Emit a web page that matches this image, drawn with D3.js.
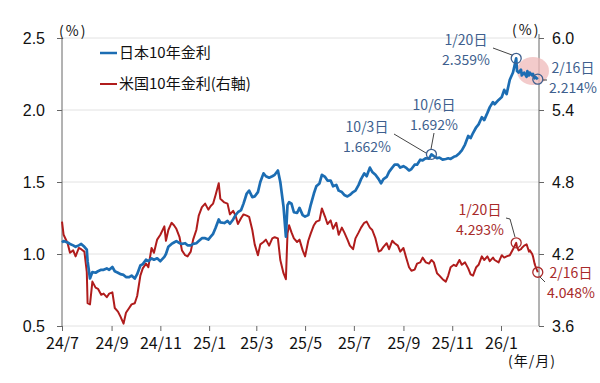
<!DOCTYPE html>
<html>
<head>
<meta charset="utf-8">
<script src="https://cdn.jsdelivr.net/npm/d3@7"></script>
<style>
  body { margin: 0; background: #fff; }
  text { font-family: "Noto Sans CJK JP", "Noto Sans", sans-serif; }
</style>
</head>
<body>
<div id="chart"></div>
<script>
// observation dates, grouped by month
var dates = [
  "2024-07-01","2024-07-03","2024-07-08","2024-07-11","2024-07-15","2024-07-18","2024-07-22","2024-07-25","2024-07-29",
  "2024-08-01","2024-08-02","2024-08-05","2024-08-08","2024-08-12","2024-08-15","2024-08-19","2024-08-22","2024-08-26","2024-08-29",
  "2024-09-02","2024-09-05","2024-09-09","2024-09-12","2024-09-16","2024-09-19","2024-09-23","2024-09-26","2024-09-30",
  "2024-10-03","2024-10-07","2024-10-10","2024-10-14","2024-10-17","2024-10-21","2024-10-24","2024-10-28",
  "2024-11-01","2024-11-06","2024-11-08","2024-11-11","2024-11-15","2024-11-18","2024-11-21","2024-11-25","2024-11-28",
  "2024-12-02","2024-12-05","2024-12-09","2024-12-12","2024-12-16","2024-12-19","2024-12-23","2024-12-27","2024-12-31",
  "2025-01-03","2025-01-06","2025-01-09","2025-01-13","2025-01-15","2025-01-20","2025-01-24","2025-01-27","2025-01-31",
  "2025-02-03","2025-02-06","2025-02-10","2025-02-13","2025-02-17","2025-02-20","2025-02-24","2025-02-27",
  "2025-03-03","2025-03-06","2025-03-10","2025-03-13","2025-03-17","2025-03-21","2025-03-24","2025-03-28","2025-03-31",
  "2025-04-04","2025-04-07","2025-04-09","2025-04-11","2025-04-14","2025-04-17","2025-04-21","2025-04-24","2025-04-28",
  "2025-05-01","2025-05-05","2025-05-08","2025-05-12","2025-05-15","2025-05-19","2025-05-22","2025-05-26","2025-05-29",
  "2025-06-02","2025-06-05","2025-06-09","2025-06-12","2025-06-16","2025-06-19","2025-06-23","2025-06-26","2025-06-30",
  "2025-07-03","2025-07-07","2025-07-10","2025-07-14","2025-07-17","2025-07-21","2025-07-24","2025-07-28",
  "2025-08-01","2025-08-04","2025-08-07","2025-08-11","2025-08-14","2025-08-18","2025-08-21","2025-08-25","2025-08-28",
  "2025-09-01","2025-09-04","2025-09-08","2025-09-11","2025-09-15","2025-09-18","2025-09-22","2025-09-25","2025-09-29",
  "2025-10-03","2025-10-06","2025-10-09","2025-10-13","2025-10-16","2025-10-20","2025-10-24","2025-10-27","2025-10-30",
  "2025-11-03","2025-11-06","2025-11-10","2025-11-13","2025-11-17","2025-11-21","2025-11-24","2025-11-27",
  "2025-12-01","2025-12-04","2025-12-08","2025-12-11","2025-12-15","2025-12-18","2025-12-22","2025-12-24","2025-12-29",
  "2026-01-02","2026-01-05","2026-01-08","2026-01-12","2026-01-16","2026-01-20","2026-01-21","2026-01-23","2026-01-26","2026-01-27","2026-01-30",
  "2026-02-02","2026-02-03","2026-02-05","2026-02-06","2026-02-09","2026-02-10","2026-02-12","2026-02-13","2026-02-16"
];
// 日本10年金利 (left axis, %)
var jpYield = [
  1.08,1.09,1.08,1.07,1.06,1.05,1.06,1.07,1.05,
  1.03,0.95,0.83,0.875,0.87,0.88,0.89,0.89,0.90,0.89,
  0.91,0.88,0.87,0.86,0.855,0.84,0.84,0.85,0.83,
  0.86,0.92,0.93,0.96,0.95,0.97,0.96,0.97,
  0.95,0.98,1.00,1.05,1.07,1.08,1.09,1.075,1.07,
  1.075,1.06,1.06,1.07,1.075,1.09,1.11,1.11,1.10,
  1.12,1.14,1.18,1.24,1.22,1.215,1.23,1.21,1.24,
  1.27,1.29,1.305,1.35,1.42,1.44,1.395,1.40,
  1.43,1.50,1.56,1.54,1.53,1.54,1.55,1.58,1.50,
  1.33,1.12,1.34,1.36,1.35,1.29,1.285,1.32,1.27,
  1.26,1.27,1.34,1.42,1.47,1.49,1.55,1.535,1.51,
  1.51,1.47,1.48,1.44,1.43,1.41,1.40,1.41,1.43,
  1.44,1.48,1.52,1.56,1.54,1.60,1.57,1.55,
  1.52,1.49,1.52,1.535,1.57,1.60,1.62,1.62,1.60,
  1.61,1.60,1.58,1.59,1.62,1.62,1.655,1.65,1.665,
  1.662,1.692,1.68,1.665,1.67,1.655,1.66,1.665,1.66,
  1.675,1.68,1.70,1.72,1.76,1.82,1.805,1.84,
  1.88,1.90,1.95,1.93,1.98,2.02,2.055,2.04,2.07,
  2.09,2.14,2.11,2.21,2.26,2.359,2.27,2.26,2.28,2.24,2.26,
  2.23,2.27,2.24,2.26,2.24,2.25,2.22,2.23,2.214
];
// 米国10年金利 (right axis, %)
var usYield = [
  4.47,4.36,4.29,4.21,4.23,4.18,4.25,4.24,4.22,
  4.05,3.79,3.78,3.97,3.92,3.91,3.86,3.87,3.84,3.87,
  3.88,3.75,3.72,3.68,3.62,3.71,3.75,3.78,3.79,
  3.85,4.02,4.08,4.12,4.09,4.25,4.21,4.32,
  4.36,4.43,4.31,4.40,4.46,4.44,4.41,4.34,4.23,
  4.19,4.18,4.22,4.32,4.40,4.52,4.59,4.62,4.57,
  4.60,4.62,4.69,4.79,4.66,4.63,4.62,4.53,4.56,
  4.52,4.45,4.50,4.53,4.52,4.51,4.40,4.28,
  4.19,4.28,4.30,4.32,4.27,4.33,4.34,4.33,4.15,
  4.04,3.99,4.37,4.44,4.38,4.33,4.30,4.32,4.23,
  4.18,4.31,4.37,4.44,4.47,4.48,4.58,4.51,4.45,
  4.48,4.41,4.46,4.36,4.42,4.38,4.32,4.27,4.24,
  4.33,4.38,4.42,4.46,4.47,4.42,4.40,4.33,
  4.22,4.23,4.26,4.29,4.24,4.31,4.29,4.27,4.22,
  4.25,4.18,4.09,4.06,4.07,4.12,4.13,4.17,4.13,
  4.12,4.15,4.13,4.04,4.02,3.99,3.97,4.02,4.09,
  4.11,4.10,4.15,4.11,4.13,4.08,4.03,4.02,
  4.09,4.11,4.18,4.15,4.18,4.14,4.17,4.15,4.13,
  4.19,4.17,4.18,4.19,4.24,4.293,4.26,4.23,4.24,4.25,4.27,
  4.28,4.26,4.22,4.23,4.20,4.18,4.12,4.10,4.048
];
var xTicks = ["2024-07-01","2024-09-01","2024-11-01","2025-01-01","2025-03-01","2025-05-01","2025-07-01","2025-09-01","2025-11-01","2026-01-01"];
var leftTicks = [0.5, 1.0, 1.5, 2.0, 2.5];
var rightTicks = [3.6, 4.2, 4.8, 5.4, 6.0];

var width = 600, height = 383;
var parse = d3.timeParse("%Y-%m-%d");
var blue = "#1c6db3", red = "#b01c1c";
var blueText = "#3e5f8e", redText = "#a82a2a";

var svg = d3.select("#chart").append("svg")
  .attr("width", width)
  .attr("height", height);

var x = d3.scaleTime()
  .domain([parse("2024-07-01"), parse("2026-01-01")])
  .range([62, 501]);
var yL = d3.scaleLinear().domain([0.5, 2.5]).range([326, 38]);
var yR = d3.scaleLinear().domain([3.6, 6.0]).range([326, 38]);

var jp = dates.map(function(d, i) { return {date: parse(d), v: jpYield[i]}; });
var us = dates.map(function(d, i) { return {date: parse(d), v: usYield[i]}; });

// gridlines
svg.append("g").selectAll("line").data(leftTicks).enter()
  .append("line")
  .attr("x1", 62).attr("x2", 539)
  .attr("y1", function(d) { return yL(d); })
  .attr("y2", function(d) { return yL(d); })
  .style("stroke", "#e2e2e2")
  .style("stroke-width", 1);

// left axis
var axL = svg.append("g")
  .attr("transform", "translate(62,0)")
  .call(d3.axisLeft(yL).tickValues(leftTicks).tickFormat(d3.format(".1f")).tickSize(5).tickSizeOuter(0));
axL.select(".domain").style("stroke", "#666").attr("d", "M0,38V326");
axL.selectAll(".tick line").style("stroke", "#666");
axL.selectAll("text").attr("font-size", "16px").attr("fill", "#111").attr("x", -17)
  .style("font-family", "Liberation Sans, Arial, sans-serif");

// right axis
var axR = svg.append("g")
  .attr("transform", "translate(539,0)")
  .call(d3.axisRight(yR).tickValues(rightTicks).tickFormat(d3.format(".1f")).tickSize(5).tickSizeOuter(0));
axR.select(".domain").style("stroke", "#666").attr("d", "M0,34V326");
axR.selectAll(".tick line").style("stroke", "#666");
axR.selectAll("text").attr("font-size", "16px").attr("fill", "#111").attr("x", 13)
  .style("font-family", "Liberation Sans, Arial, sans-serif");

// bottom axis (ticks only)
var axB = svg.append("g")
  .attr("transform", "translate(0,326)")
  .call(d3.axisBottom(x).tickValues(xTicks.map(parse)).tickFormat(d3.timeFormat("%y/%-m")).tickSize(5).tickSizeOuter(0));
axB.select(".domain").remove();
axB.selectAll(".tick line").style("stroke", "#666");
axB.selectAll("text").attr("font-size", "16px").attr("fill", "#111").attr("y", 12);

// unit labels
svg.append("text").attr("x", 59).attr("y", 36).attr("font-size", "14px").attr("letter-spacing", "2px").attr("fill", "#111").text("(%)");
svg.append("text").attr("x", 512).attr("y", 35).attr("font-size", "14px").attr("letter-spacing", "2px").attr("fill", "#111").text("(%)");
svg.append("text").attr("x", 508).attr("y", 366).attr("font-size", "14px").attr("letter-spacing", "1px").attr("fill", "#111").text("(年/月)");

// highlight ellipse behind the latest JGB values
svg.append("ellipse")
  .attr("cx", 533).attr("cy", 71).attr("rx", 16).attr("ry", 14)
  .style("fill", "#efb9b9").style("opacity", 0.75);

// lines
var lineL = d3.line().x(function(d) { return x(d.date); }).y(function(d) { return yL(d.v); });
var lineR = d3.line().x(function(d) { return x(d.date); }).y(function(d) { return yR(d.v); });

svg.append("path").datum(us)
  .attr("d", lineR)
  .style("fill", "none").style("stroke", red).style("stroke-width", 2).style("stroke-linejoin", "round");

svg.append("path").datum(jp)
  .attr("d", lineL)
  .style("fill", "none").style("stroke", blue).style("stroke-width", 2.7).style("stroke-linejoin", "round");

// legend
svg.append("line").attr("x1", 100).attr("x2", 117).attr("y1", 53).attr("y2", 53)
  .style("stroke", blue).style("stroke-width", 2.5);
svg.append("text").attr("x", 119).attr("y", 58).attr("font-size", "15px").attr("fill", "#111").text("日本10年金利");
svg.append("line").attr("x1", 100).attr("x2", 117).attr("y1", 84).attr("y2", 84)
  .style("stroke", red).style("stroke-width", 2);
svg.append("text").attr("x", 119).attr("y", 89).attr("font-size", "15px").attr("fill", "#111").text("米国10年金利(右軸)");

// annotations
function marker(date, yv, color) {
  svg.append("circle")
    .attr("cx", x(parse(date))).attr("cy", yv).attr("r", 5)
    .style("fill", "none").style("stroke", color).style("stroke-width", 1.3);
}
function label(lines, xc, y0, color) {
  lines.forEach(function(t, i) {
    svg.append("text").attr("x", xc).attr("y", y0 + i * 20)
      .attr("text-anchor", "middle").attr("font-size", "14px").attr("fill", color).text(t);
  });
}
function leader(pts, color) {
  svg.append("path").attr("d", d3.line()(pts))
    .style("fill", "none").style("stroke", color).style("stroke-width", 1);
}

var jpAt = function(d) { return yL(jpYield[dates.indexOf(d)]); };
var usAt = function(d) { return yR(usYield[dates.indexOf(d)]); };

marker("2026-01-20", jpAt("2026-01-20"), blueText);
marker("2026-02-16", jpAt("2026-02-16"), blueText);
marker("2025-10-06", jpAt("2025-10-06"), blueText);
marker("2026-01-20", usAt("2026-01-20"), redText);
marker("2026-02-16", usAt("2026-02-16"), redText);

label(["1/20日", "2.359%"], 466, 45, blueText);
leader([[493, 48], [512, 55]], "#444");
label(["2/16日", "2.214%"], 573, 73, blueText);
leader([[543, 80], [547, 80]], "#444");
label(["10/6日", "1.692%"], 434, 110, blueText);
leader([[434, 133], [431, 149]], "#444");
label(["10/3日", "1.662%"], 367, 132, blueText);
leader([[394, 134], [426, 153]], "#444");
label(["1/20日", "4.293%"], 480, 215, redText);
leader([[506, 218], [510, 219], [515, 237]], "#444");
label(["2/16日", "4.048%"], 571, 278, redText);
leader([[540, 277], [545, 282]], "#444");
</script>
</body>
</html>
